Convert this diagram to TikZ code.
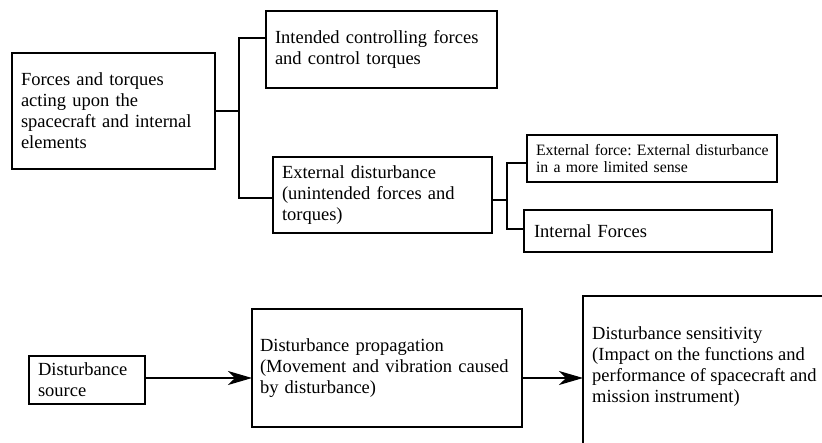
\documentclass[tikz,border=0pt]{standalone}
\usepackage{fontspec}
\setmainfont{Liberation Serif}
\usetikzlibrary{arrows.meta,calc}
\newcommand{\bigtxt}{\fontsize{18.5}{21}\selectfont}
\newcommand{\smalltxt}{\fontsize{15.8}{17.7}\selectfont}
\frenchspacing
\begin{document}
\begin{tikzpicture}[x=1pt,y=-1pt,
  box/.style={draw, line width=1.5pt, outer sep=0pt, inner xsep=9pt, inner ysep=0pt, align=left, anchor=north west, font=\bigtxt},
  conn/.style={line width=1.1pt},
  arr/.style={line width=1.1pt, -{Stealth[length=24pt,width=14pt,inset=7pt]}}]
\useasboundingbox (0,0) rectangle (822,442);
\clip (0,0) rectangle (822,442);

\node[box, text width=185pt, minimum height=116pt] (A) at (12,53) {\mbox{Forces and torques}\\\mbox{acting upon the}\\\mbox{spacecraft and internal}\\\mbox{elements}};
\node[box, text width=213pt, minimum height=77pt] (B) at (266,11) {\mbox{Intended controlling forces}\\\mbox{and control torques}};
\node[box, text width=201pt, minimum height=76pt] (C) at (273,157) {\mbox{External disturbance}\\\mbox{(unintended forces and}\\\mbox{torques)}};
\node[box, font=\smalltxt, text width=232pt, minimum height=47pt] (D) at (527,135) {\mbox{External force: External disturbance}\\\mbox{in a more limited sense}};
\node[box, inner xsep=10pt, text width=228pt, minimum height=42pt] (E) at (524,210) {\mbox{Internal Forces}};

\node[box, text width=98pt, minimum height=48pt] (F) at (29,356) {\mbox{Disturbance}\\\mbox{source}};
\node[box, inner xsep=8pt, text width=254pt, minimum height=118pt] (G) at (252,309) {\mbox{Disturbance propagation}\\\mbox{(Movement and vibration caused}\\\mbox{by disturbance)}};
\node[draw, line width=1.5pt, outer sep=0pt, anchor=north west, minimum width=300pt, minimum height=200pt] (H) at (583,296) {};
\node[anchor=west, align=left, font=\bigtxt, inner sep=0pt] (Ht) at (592,367) {Disturbance sensitivity\\(Impact on the functions and\\performance of spacecraft and\\mission instrument)};

% tree connectors
\coordinate (jA) at ([xshift=24pt]A.east);
\draw[conn] (A.east) -- (jA);
\draw[conn] ([yshift=11.5pt]B.west) -| (jA) |- ([yshift=-3pt]C.west);
\coordinate (jC) at ([xshift=15pt,yshift=-5pt]C.east);
\draw[conn] ([yshift=-5pt]C.east) -- (jC);
\draw[conn] ([yshift=-4.5pt]D.west) -| (jC) |- ([yshift=2pt]E.west);

% arrows
\coordinate (ar) at ([yshift=2pt]F.east);
\draw[arr] (ar) -- (ar -| G.west);
\draw[arr] (ar -| G.east) -- (ar -| H.west);
\end{tikzpicture}
\end{document}
